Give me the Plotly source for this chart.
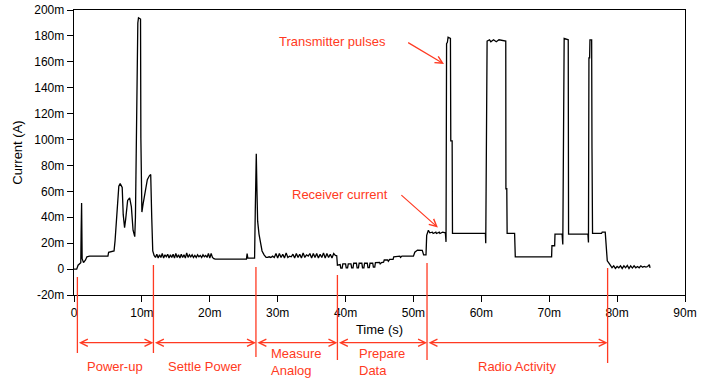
import plotly.graph_objects as go

# ---------------- data (time in ms, current in mA) ----------------
powerup_t = [0, 0.4, 0.6, 0.9, 1.0, 1.05, 1.12, 1.2, 1.4, 1.7,
             1.9, 2.3, 5.0, 5.1, 5.9, 6.05, 6.3, 6.6, 6.8, 7.1,
             7.25, 7.45, 7.6, 7.9, 8.2, 8.45, 8.7, 8.95, 9.05, 9.2,
             9.3, 9.4, 9.5, 9.8, 9.85, 9.9, 10.0, 10.2, 10.5, 10.8,
             11.1, 11.3, 11.45, 11.6, 11.8]
powerup_ma = [0, 0, 3, 4, 5, 28, 51, 8, 5, 7,
              9.5, 10, 10, 13, 14, 22, 40, 64, 66, 63,
              42, 32, 38, 53, 55, 48, 30, 25, 40, 130,
              130, 190, 194, 193, 101, 70, 44, 51, 62, 69,
              72, 73, 40, 14, 10.5]

settle_t = [12.0, 12.2, 12.4, 12.6, 12.8, 13.0, 13.2, 13.4, 13.6, 13.8,
            14.0, 14.2, 14.4, 14.6, 14.8, 15.0, 15.2, 15.4, 15.6, 15.8,
            16.0, 16.2, 16.4, 16.6, 16.8, 17.0, 17.2, 17.4, 17.6, 17.8,
            18.0, 18.2, 18.4, 18.6, 18.8, 19.0, 19.2, 19.4, 19.6, 19.8,
            20.0, 20.2, 20.4, 20.6]
settle_ma = [9, 11.5, 8.5, 11, 9, 12, 8.5, 11, 9.5, 11.5,
             8.5, 11, 9, 11.5, 8.5, 12, 9, 11, 8.5, 11.5,
             9, 11, 8.5, 12.5, 9, 11, 9.5, 11, 9, 10.5,
             9, 11, 9.5, 10.5, 9, 11, 9.5, 10.5, 9, 12,
             8.5, 12, 9, 8]

spike_t = [20.8, 25.4, 25.5, 25.6, 26.6, 26.7, 26.85, 26.95, 27.05, 27.25,
           27.5, 27.7, 28.0, 28.3]
spike_ma = [7.7, 7.7, 12, 8.5, 8.5, 44, 89, 60, 37, 27,
            18, 14, 11, 9]

measure_t = [28.5, 28.75, 29.0, 29.25, 29.5, 29.75, 30.0, 30.25, 30.5, 30.75,
             31.0, 31.25, 31.5, 31.75, 32.0, 32.25, 32.5, 32.75, 33.0, 33.25,
             33.5, 33.75, 34.0, 34.25, 34.5, 34.75, 35.0, 35.25, 35.5, 35.75,
             36.0, 36.25, 36.5, 36.75, 37.0, 37.25, 37.5, 37.75, 38.0, 38.25,
             38.5]
measure_ma = [9, 9.5, 9, 10, 9, 12, 8.5, 12, 9, 11.5,
              8.5, 12.5, 9, 10, 9.5, 11.5, 8.5, 12, 9, 11.5,
              8.5, 12.5, 9, 11, 10, 12, 8.5, 12, 9, 12,
              8.5, 11.5, 9, 12.5, 8.5, 12, 9, 11.5, 8.5, 12,
              10.5]

prepare_t = [38.7, 38.8, 39.2, 39.3, 39.5, 39.6, 40.0, 40.1, 40.3, 40.4,
             40.8, 40.9, 41.1, 41.2, 41.6, 41.7, 41.9, 42.0, 42.4, 42.5,
             42.7, 42.8, 43.2, 43.3, 43.5, 43.6, 44.0, 44.1, 44.3, 44.4,
             45.0, 45.1, 45.3, 45.6, 45.7, 46.2, 46.3, 46.5, 47.0, 47.1,
             48.0, 48.1, 48.3, 50.0, 50.2, 50.6, 51.3, 51.5, 51.85]
prepare_ma = [10.3, 3, 3.5, 0.8, 0.8, 4, 4, 1, 1, 4,
              4, 1, 1, 4.5, 4.5, 1, 1, 4.5, 4.5, 1,
              1, 4.5, 4.5, 1.2, 1.2, 4.5, 4.5, 1.5, 1.5, 5,
              5.2, 4, 5, 5.3, 7, 7, 6, 7.5, 7.5, 9.5,
              10, 9, 10, 10, 13, 14.7, 14.5, 11, 11]

radio_t = [51.95, 52.2, 52.4, 52.8, 52.9, 53.3, 53.4, 53.8, 53.9, 54.3,
           54.7, 54.8, 54.88, 55.0, 55.1, 55.45, 55.5, 55.7, 55.75, 60.6,
           60.65, 60.72, 60.85, 61.2, 61.4, 61.8, 62.2, 62.6, 63.6, 63.62,
           63.75, 63.8, 64.9, 65.0, 70.35, 70.4, 70.8, 70.85, 71.9, 72.0,
           72.07, 72.15, 72.2, 72.8, 72.85, 75.7, 75.78, 75.85, 75.95, 76.0,
           76.25, 76.3, 76.38, 77.7, 77.8, 78.25, 78.4, 78.55, 78.9, 79.1]
radio_ma = [26, 30, 28, 28.5, 27.5, 28.5, 27.5, 28.5, 27.5, 28.5,
            28, 21, 174, 175, 179, 178, 99, 99, 27.5, 27.5,
            20, 91, 176, 177, 175.5, 177, 175.5, 177, 176, 62,
            62, 27.5, 27.5, 9.5, 9.5, 18, 18, 27, 27, 19,
            69.5, 69.5, 178, 177, 27, 27, 20.5, 163, 163, 177,
            177, 93, 27.5, 27.5, 28.5, 28.5, 14, 6.4, 3.8, 2.6]

idle_t = [79.25, 79.5, 79.75, 80.0, 80.25, 80.5, 80.75, 81.0, 81.25, 81.5,
          81.75, 82.0, 82.25, 82.5, 82.75, 83.0, 83.25, 83.5, 83.75, 84.0,
          84.25, 84.5, 84.75, 84.85]
idle_ma = [1, 2.5, 0.5, 2, 1, 2.5, 0.5, 2.5, 1, 2.8,
           0.5, 2.5, 0.8, 2.5, 1, 2, 1, 2.5, 1.5, 2,
           1.5, 2, 3.5, 1]

x_tick_vals = [0, 10, 20, 30, 40, 50, 60, 70, 80, 90]
x_tick_text = ["0", "10m", "20m", "30m", "40m", "50m", "60m", "70m", "80m", "90m"]
y_tick_vals = [-20, 0, 20, 40, 60, 80, 100, 120, 140, 160, 180, 200]
y_tick_text = ["-20m", "0", "20m", "40m", "60m", "80m", "100m", "120m",
               "140m", "160m", "180m", "200m"]

phase_bounds_ms = [0.5, 11.7, 26.8, 38.8, 52.0, 78.6]
phase_labels = ["Power-up", "Settle Power", "Measure<br>Analog", "Prepare<br>Data", "Radio Activity"]

# ---------------- assemble trace ----------------
time_ms = powerup_t + settle_t + spike_t + measure_t + prepare_t + radio_t + idle_t
current_ma = powerup_ma + settle_ma + spike_ma + measure_ma + prepare_ma + radio_ma + idle_ma

RED = "#FF3A22"
FONT = "Liberation Sans, Arial, sans-serif"
PLOT_TOP_PX, PLOT_BOTTOM_PX = 10, 295


def paper_y(px):
    return (PLOT_BOTTOM_PX - px) / (PLOT_BOTTOM_PX - PLOT_TOP_PX)


fig = go.Figure()
fig.add_trace(go.Scatter(x=time_ms, y=current_ma, mode="lines",
                         line=dict(color="black", width=1.3), hoverinfo="skip"))

shapes = []
line_extent_px = [(277, 353), (265, 353), (267, 357), (275, 360), (263, 360), (268, 363)]
for b, (top, bot) in zip(phase_bounds_ms, line_extent_px):
    shapes.append(dict(type="line", xref="x", yref="paper", x0=b, x1=b,
                       y0=paper_y(top), y1=paper_y(bot),
                       line=dict(color=RED, width=1.3)))

annotations = []
arrow_y = paper_y(342.7)
for i in range(len(phase_labels)):
    a, b = phase_bounds_ms[i], phase_bounds_ms[i + 1]
    annotations.append(dict(x=b, y=arrow_y, xref="x", yref="paper",
                            ax=a, ay=0, axref="x", ayref="pixel",
                            text="", showarrow=True, arrowside="end+start",
                            arrowhead=5, startarrowhead=5,
                            arrowsize=1.2, startarrowsize=1.2,
                            arrowwidth=1.2, arrowcolor=RED))
    multi = "<br>" in phase_labels[i]
    annotations.append(dict(x=(a + b) / 2, xref="x", yref="paper",
                            y=paper_y(379.5 if multi else 367),
                            yanchor="bottom" if multi else "middle",
                            xanchor="center", align="left",
                            text=phase_labels[i], showarrow=False,
                            font=dict(family=FONT, size=13, color=RED)))

# pointer annotations
annotations.append(dict(x=38.1, y=175.8, xref="x", yref="y", text="Transmitter pulses",
                        showarrow=False, font=dict(family=FONT, size=13, color=RED)))
annotations.append(dict(x=54.5, y=158.3, xref="x", yref="y", ax=49.0, ay=175.5,
                        axref="x", ayref="y", text="", showarrow=True, arrowhead=5,
                        arrowsize=1.2, arrowwidth=1.2, arrowcolor=RED))
annotations.append(dict(x=39.2, y=57.9, xref="x", yref="y", text="Receiver current",
                        showarrow=False, font=dict(family=FONT, size=13, color=RED)))
annotations.append(dict(x=53.6, y=32.1, xref="x", yref="y", ax=48.0, ay=58.1,
                        axref="x", ayref="y", text="", showarrow=True, arrowhead=5,
                        arrowsize=1.2, arrowwidth=1.2, arrowcolor=RED))

axis_common = dict(showline=True, linecolor="black", linewidth=1.3, mirror=True,
                   ticks="outside", ticklen=6, tickcolor="black", tickwidth=1,
                   showgrid=False, zeroline=False, automargin=False,
                   ticklabeloverflow="allow",
                   tickfont=dict(family=FONT, size=12, color="black"))

fig.update_layout(
    width=705, height=380,
    margin=dict(l=74, r=20, t=10, b=85, autoexpand=False),
    paper_bgcolor="white", plot_bgcolor="white",
    showlegend=False,
    font=dict(family=FONT, size=12, color="black"),
    xaxis=dict(range=[0, 90], tickvals=x_tick_vals, ticktext=x_tick_text,
               title=dict(text="Time (s)", font=dict(family=FONT, size=13), standoff=6),
               **axis_common),
    yaxis=dict(range=[-20, 200], tickvals=y_tick_vals, ticktext=y_tick_text,
               title=dict(text="Current (A)", font=dict(family=FONT, size=13), standoff=8),
               **axis_common),
    shapes=shapes,
    annotations=annotations,
)

fig.write_html("out.html",
               config={"displayModeBar": False, "staticPlot": True},
               post_script="document.body.style.margin='0';"
                           "document.body.style.overflow='hidden';")
